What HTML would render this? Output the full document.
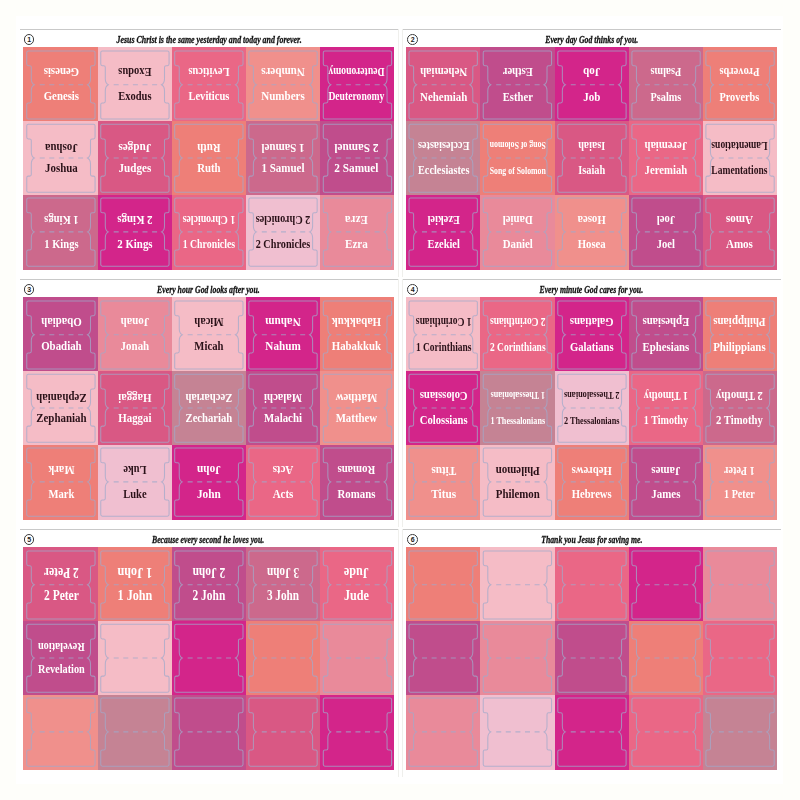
<!DOCTYPE html><html><head><meta charset="utf-8"><title>Bible tabs</title><style>
html,body{margin:0;padding:0}
body{width:800px;height:800px;background:#fefefa;position:relative;overflow:hidden;font-family:"Liberation Serif",serif}
.pg{position:absolute;left:16px;top:16px;width:767px;height:768px;background:#fff}
.ln{position:absolute;height:1px;background:#c9c9c9}
.vl{position:absolute;width:1px;background:#efefec}
.num{position:absolute;width:8.8px;height:8.8px;border:1.1px solid #3c3c3c;border-radius:50%;font:bold 7px/9px "Liberation Sans",sans-serif;text-align:center;color:#222}
.tt{position:absolute;height:12px;width:300px;font:italic bold 10.5px/12px "Liberation Serif",serif;color:#111;white-space:nowrap;text-align:center}
.tt span{display:inline-block;transform-origin:50% 50%;-webkit-text-stroke:0.3px #111;filter:blur(0.25px)}
.c{position:absolute;overflow:hidden}
.c svg{position:absolute;left:0;top:0;overflow:hidden;filter:blur(0.4px)}
.c text{font-family:"Liberation Serif",serif;font-weight:bold;font-size:13.5px;fill:#fff;text-anchor:middle}
.c.k text{fill:#2a1118}
</style></head><body><div class="pg"></div>
<svg width="0" height="0" style="position:absolute"><defs><g id="tab"><path d="M-32.55,-33.85 H32.55 Q34.15,-33.85 34.15,-32.25 V-20.70 Q34.15,-19.1 32.55,-19.1 H31.20 Q29.6,-19.1 29.6,-17.5 V-6 Q29.6,-1.6 26.6,0 Q29.6,1.6 29.6,6 V16.5 Q29.6,18.1 31.20,18.1 H32.55 Q34.15,18.1 34.15,19.70 V32.65 Q34.15,34.25 32.55,34.25 H-32.55 Q-34.15,34.25 -34.15,32.65 V19.70 Q-34.15,18.1 -32.55,18.1 H-31.20 Q-29.6,18.1 -29.6,16.5 V6 Q-29.6,1.6 -26.6,0 Q-29.6,-1.6 -29.6,-6 V-17.5 Q-29.6,-19.1 -31.20,-19.1 H-32.55 Q-34.15,-19.1 -34.15,-20.70 V-32.25 Q-34.15,-33.85 -32.55,-33.85 Z" stroke="#a0aaca" stroke-opacity="0.74" stroke-width="1.05" fill="none"/><path d="M-21.200000000000003,0 H26.6" stroke="#a0aaca" stroke-opacity="0.74" stroke-width="1.05" fill="none" stroke-dasharray="5 4.6"/></g></defs></svg>
<div class="ln" style="left:20px;top:28.8px;width:378px"></div>
<div class="num" style="left:23.7px;top:34.20px">1</div>
<div class="tt" style="left:58.6px;top:33.70px"><span style="transform:scaleX(0.752)">Jesus Christ is the same yesterday and today and forever.</span></div>
<div class="c" style="left:22.6px;top:46.7px;width:75.5px;height:74.7px;background:#ee7f78"><svg width="75.5" height="74.7"><use href="#tab" x="37.90" y="37.80"/><text transform="translate(38.40,21.32) rotate(180) scale(0.799,1)">Genesis</text><text transform="translate(38.40,53.32) scale(0.799,1)">Genesis</text></svg></div>
<div class="c k" style="left:98.1px;top:46.7px;width:73.8px;height:74.7px;background:#f5bcc6"><svg width="73.8" height="74.7"><use href="#tab" x="36.90" y="37.80"/><text transform="translate(36.90,21.32) rotate(180) scale(0.778,1)">Exodus</text><text transform="translate(36.90,53.32) scale(0.778,1)">Exodus</text></svg></div>
<div class="c" style="left:171.9px;top:46.7px;width:73.7px;height:74.7px;background:#ea6786"><svg width="73.7" height="74.7"><use href="#tab" x="36.85" y="37.80"/><text transform="translate(36.90,21.32) rotate(180) scale(0.782,1)">Leviticus</text><text transform="translate(36.90,53.32) scale(0.782,1)">Leviticus</text></svg></div>
<div class="c" style="left:245.6px;top:46.7px;width:74.0px;height:74.7px;background:#f0908c"><svg width="74.0" height="74.7"><use href="#tab" x="37.00" y="37.80"/><text transform="translate(37.00,21.32) rotate(180) scale(0.820,1)">Numbers</text><text transform="translate(37.00,53.32) scale(0.820,1)">Numbers</text></svg></div>
<div class="c" style="left:319.6px;top:46.7px;width:74.9px;height:74.7px;background:#d3258a"><svg width="74.9" height="74.7"><use href="#tab" x="37.45" y="37.80"/><text transform="translate(36.40,21.32) rotate(180) scale(0.715,1)">Deuteronomy</text><text transform="translate(36.40,53.32) scale(0.715,1)">Deuteronomy</text></svg></div>
<div class="c k" style="left:22.6px;top:121.4px;width:75.5px;height:73.9px;background:#f5bcc6"><svg width="75.5" height="73.9"><use href="#tab" x="37.90" y="37.00"/><text transform="translate(38.40,22.62) rotate(180) scale(0.808,1)">Joshua</text><text transform="translate(38.40,50.62) scale(0.808,1)">Joshua</text></svg></div>
<div class="c" style="left:98.1px;top:121.4px;width:73.8px;height:73.9px;background:#d95884"><svg width="73.8" height="73.9"><use href="#tab" x="36.90" y="37.00"/><text transform="translate(36.90,22.62) rotate(180) scale(0.824,1)">Judges</text><text transform="translate(36.90,50.62) scale(0.824,1)">Judges</text></svg></div>
<div class="c" style="left:171.9px;top:121.4px;width:73.7px;height:73.9px;background:#ee7f78"><svg width="73.7" height="73.9"><use href="#tab" x="36.85" y="37.00"/><text transform="translate(36.90,22.62) rotate(180) scale(0.800,1)">Ruth</text><text transform="translate(36.90,50.62) scale(0.800,1)">Ruth</text></svg></div>
<div class="c" style="left:245.6px;top:121.4px;width:74.0px;height:73.9px;background:#cc698c"><svg width="74.0" height="73.9"><use href="#tab" x="37.00" y="37.00"/><text transform="translate(37.00,22.62) rotate(180) scale(0.816,1)">1 Samuel</text><text transform="translate(37.00,50.62) scale(0.816,1)">1 Samuel</text></svg></div>
<div class="c" style="left:319.6px;top:121.4px;width:74.9px;height:73.9px;background:#c04d8c"><svg width="74.9" height="73.9"><use href="#tab" x="37.45" y="37.00"/><text transform="translate(36.40,22.62) rotate(180) scale(0.836,1)">2 Samuel</text><text transform="translate(36.40,50.62) scale(0.836,1)">2 Samuel</text></svg></div>
<div class="c" style="left:22.6px;top:195.3px;width:75.5px;height:74.4px;background:#cc698c"><svg width="75.5" height="74.4"><use href="#tab" x="37.90" y="36.90"/><text transform="translate(38.40,20.72) rotate(180) scale(0.782,1)">1 Kings</text><text transform="translate(38.40,52.72) scale(0.782,1)">1 Kings</text></svg></div>
<div class="c" style="left:98.1px;top:195.3px;width:73.8px;height:74.4px;background:#d3258a"><svg width="73.8" height="74.4"><use href="#tab" x="36.90" y="36.90"/><text transform="translate(36.90,20.72) rotate(180) scale(0.806,1)">2 Kings</text><text transform="translate(36.90,52.72) scale(0.806,1)">2 Kings</text></svg></div>
<div class="c" style="left:171.9px;top:195.3px;width:73.7px;height:74.4px;background:#ea6786"><svg width="73.7" height="74.4"><use href="#tab" x="36.85" y="36.90"/><text transform="translate(36.90,20.72) rotate(180) scale(0.728,1)">1 Chronicles</text><text transform="translate(36.90,52.72) scale(0.728,1)">1 Chronicles</text></svg></div>
<div class="c k" style="left:245.6px;top:195.3px;width:74.0px;height:74.4px;background:#f0bfd0"><svg width="74.0" height="74.4"><use href="#tab" x="37.00" y="36.90"/><text transform="translate(37.00,20.72) rotate(180) scale(0.757,1)">2 Chronicles</text><text transform="translate(37.00,52.72) scale(0.757,1)">2 Chronicles</text></svg></div>
<div class="c" style="left:319.6px;top:195.3px;width:74.9px;height:74.4px;background:#e98a9a"><svg width="74.9" height="74.4"><use href="#tab" x="37.45" y="36.90"/><text transform="translate(36.40,20.72) rotate(180) scale(0.825,1)">Ezra</text><text transform="translate(36.40,52.72) scale(0.825,1)">Ezra</text></svg></div>
<div class="ln" style="left:402px;top:28.8px;width:379px"></div>
<div class="num" style="left:407.2px;top:34.20px">2</div>
<div class="tt" style="left:441.5px;top:33.70px"><span style="transform:scaleX(0.742)">Every day God thinks of you.</span></div>
<div class="c" style="left:406.1px;top:46.7px;width:74.1px;height:74.7px;background:#d95884"><svg width="74.1" height="74.7"><use href="#tab" x="37.20" y="37.80"/><text transform="translate(37.70,21.32) rotate(180) scale(0.809,1)">Nehemiah</text><text transform="translate(37.70,54.32) scale(0.809,1)">Nehemiah</text></svg></div>
<div class="c" style="left:480.2px;top:46.7px;width:74.7px;height:74.7px;background:#c04d8c"><svg width="74.7" height="74.7"><use href="#tab" x="37.40" y="37.80"/><text transform="translate(37.80,21.32) rotate(180) scale(0.788,1)">Esther</text><text transform="translate(37.80,54.32) scale(0.788,1)">Esther</text></svg></div>
<div class="c" style="left:554.9px;top:46.7px;width:73.9px;height:74.7px;background:#d3258a"><svg width="73.9" height="74.7"><use href="#tab" x="36.95" y="37.80"/><text transform="translate(36.70,21.32) rotate(180) scale(0.816,1)">Job</text><text transform="translate(36.70,54.32) scale(0.816,1)">Job</text></svg></div>
<div class="c" style="left:628.8px;top:46.7px;width:74.1px;height:74.7px;background:#cc698c"><svg width="74.1" height="74.7"><use href="#tab" x="37.05" y="37.80"/><text transform="translate(36.90,21.32) rotate(180) scale(0.758,1)">Psalms</text><text transform="translate(36.90,54.32) scale(0.758,1)">Psalms</text></svg></div>
<div class="c" style="left:702.9px;top:46.7px;width:74.1px;height:74.7px;background:#ee7f78"><svg width="74.1" height="74.7"><use href="#tab" x="37.05" y="37.80"/><text transform="translate(36.40,21.32) rotate(180) scale(0.766,1)">Proverbs</text><text transform="translate(36.40,54.32) scale(0.766,1)">Proverbs</text></svg></div>
<div class="c" style="left:406.1px;top:121.4px;width:74.1px;height:73.9px;background:#c58394"><svg width="74.1" height="73.9"><use href="#tab" x="37.20" y="37.00"/><text transform="translate(37.70,20.62) rotate(180) scale(0.763,1)">Ecclesiastes</text><text transform="translate(37.70,52.62) scale(0.763,1)">Ecclesiastes</text></svg></div>
<div class="c" style="left:480.2px;top:121.4px;width:74.7px;height:73.9px;background:#ee7f78"><svg width="74.7" height="73.9"><use href="#tab" x="37.40" y="37.00"/><text style="font-size:10.46px" transform="translate(37.80,20.62) rotate(180) scale(0.749,1)">Song of Solomon</text><text style="font-size:10.46px" transform="translate(37.80,52.62) scale(0.749,1)">Song of Solomon</text></svg></div>
<div class="c" style="left:554.9px;top:121.4px;width:73.9px;height:73.9px;background:#d95884"><svg width="73.9" height="73.9"><use href="#tab" x="36.95" y="37.00"/><text transform="translate(36.70,20.62) rotate(180) scale(0.766,1)">Isaiah</text><text transform="translate(36.70,52.62) scale(0.766,1)">Isaiah</text></svg></div>
<div class="c" style="left:628.8px;top:121.4px;width:74.1px;height:73.9px;background:#ea6786"><svg width="74.1" height="73.9"><use href="#tab" x="37.05" y="37.00"/><text transform="translate(36.90,20.62) rotate(180) scale(0.794,1)">Jeremiah</text><text transform="translate(36.90,52.62) scale(0.794,1)">Jeremiah</text></svg></div>
<div class="c k" style="left:702.9px;top:121.4px;width:74.1px;height:73.9px;background:#f5bcc6"><svg width="74.1" height="73.9"><use href="#tab" x="37.05" y="37.00"/><text transform="translate(36.40,20.62) rotate(180) scale(0.706,1)">Lamentations</text><text transform="translate(36.40,52.62) scale(0.706,1)">Lamentations</text></svg></div>
<div class="c" style="left:406.1px;top:195.3px;width:74.1px;height:74.4px;background:#d3258a"><svg width="74.1" height="74.4"><use href="#tab" x="37.20" y="36.90"/><text transform="translate(37.70,20.72) rotate(180) scale(0.768,1)">Ezekiel</text><text transform="translate(37.70,52.72) scale(0.768,1)">Ezekiel</text></svg></div>
<div class="c" style="left:480.2px;top:195.3px;width:74.7px;height:74.4px;background:#e98a9a"><svg width="74.7" height="74.4"><use href="#tab" x="37.40" y="36.90"/><text transform="translate(37.80,20.72) rotate(180) scale(0.804,1)">Daniel</text><text transform="translate(37.80,52.72) scale(0.804,1)">Daniel</text></svg></div>
<div class="c" style="left:554.9px;top:195.3px;width:73.9px;height:74.4px;background:#f0908c"><svg width="73.9" height="74.4"><use href="#tab" x="36.95" y="36.90"/><text transform="translate(36.70,20.72) rotate(180) scale(0.796,1)">Hosea</text><text transform="translate(36.70,52.72) scale(0.796,1)">Hosea</text></svg></div>
<div class="c" style="left:628.8px;top:195.3px;width:74.1px;height:74.4px;background:#c04d8c"><svg width="74.1" height="74.4"><use href="#tab" x="37.05" y="36.90"/><text transform="translate(36.90,20.72) rotate(180) scale(0.783,1)">Joel</text><text transform="translate(36.90,52.72) scale(0.783,1)">Joel</text></svg></div>
<div class="c" style="left:702.9px;top:195.3px;width:74.1px;height:74.4px;background:#d95884"><svg width="74.1" height="74.4"><use href="#tab" x="37.05" y="36.90"/><text transform="translate(36.40,20.72) rotate(180) scale(0.819,1)">Amos</text><text transform="translate(36.40,52.72) scale(0.819,1)">Amos</text></svg></div>
<div class="ln" style="left:20px;top:278.8px;width:378px"></div>
<div class="num" style="left:23.7px;top:284.20px">3</div>
<div class="tt" style="left:58.6px;top:283.70px"><span style="transform:scaleX(0.739)">Every hour God looks after you.</span></div>
<div class="c" style="left:22.6px;top:296.7px;width:75.5px;height:74.7px;background:#c04d8c"><svg width="75.5" height="74.7"><use href="#tab" x="37.90" y="37.80"/><text transform="translate(38.40,21.32) rotate(180) scale(0.807,1)">Obadiah</text><text transform="translate(38.40,53.32) scale(0.807,1)">Obadiah</text></svg></div>
<div class="c" style="left:98.1px;top:296.7px;width:73.8px;height:74.7px;background:#e98a9a"><svg width="73.8" height="74.7"><use href="#tab" x="36.90" y="37.80"/><text transform="translate(36.90,21.32) rotate(180) scale(0.811,1)">Jonah</text><text transform="translate(36.90,53.32) scale(0.811,1)">Jonah</text></svg></div>
<div class="c k" style="left:171.9px;top:296.7px;width:73.7px;height:74.7px;background:#f5bcc6"><svg width="73.7" height="74.7"><use href="#tab" x="36.85" y="37.80"/><text transform="translate(36.90,21.32) rotate(180) scale(0.792,1)">Micah</text><text transform="translate(36.90,53.32) scale(0.792,1)">Micah</text></svg></div>
<div class="c" style="left:245.6px;top:296.7px;width:74.0px;height:74.7px;background:#d3258a"><svg width="74.0" height="74.7"><use href="#tab" x="37.00" y="37.80"/><text transform="translate(37.00,21.32) rotate(180) scale(0.827,1)">Nahum</text><text transform="translate(37.00,53.32) scale(0.827,1)">Nahum</text></svg></div>
<div class="c" style="left:319.6px;top:296.7px;width:74.9px;height:74.7px;background:#ee7f78"><svg width="74.9" height="74.7"><use href="#tab" x="37.45" y="37.80"/><text transform="translate(36.40,21.32) rotate(180) scale(0.803,1)">Habakkuk</text><text transform="translate(36.40,53.32) scale(0.803,1)">Habakkuk</text></svg></div>
<div class="c k" style="left:22.6px;top:371.4px;width:75.5px;height:73.9px;background:#f5bcc6"><svg width="75.5" height="73.9"><use href="#tab" x="37.90" y="37.00"/><text transform="translate(38.40,22.62) rotate(180) scale(0.810,1)">Zephaniah</text><text transform="translate(38.40,50.62) scale(0.810,1)">Zephaniah</text></svg></div>
<div class="c" style="left:98.1px;top:371.4px;width:73.8px;height:73.9px;background:#d95884"><svg width="73.8" height="73.9"><use href="#tab" x="36.90" y="37.00"/><text transform="translate(36.90,22.62) rotate(180) scale(0.807,1)">Haggai</text><text transform="translate(36.90,50.62) scale(0.807,1)">Haggai</text></svg></div>
<div class="c" style="left:171.9px;top:371.4px;width:73.7px;height:73.9px;background:#c58394"><svg width="73.7" height="73.9"><use href="#tab" x="36.85" y="37.00"/><text transform="translate(36.90,22.62) rotate(180) scale(0.790,1)">Zechariah</text><text transform="translate(36.90,50.62) scale(0.790,1)">Zechariah</text></svg></div>
<div class="c" style="left:245.6px;top:371.4px;width:74.0px;height:73.9px;background:#c04d8c"><svg width="74.0" height="73.9"><use href="#tab" x="37.00" y="37.00"/><text transform="translate(37.00,22.62) rotate(180) scale(0.803,1)">Malachi</text><text transform="translate(37.00,50.62) scale(0.803,1)">Malachi</text></svg></div>
<div class="c" style="left:319.6px;top:371.4px;width:74.9px;height:73.9px;background:#f0908c"><svg width="74.9" height="73.9"><use href="#tab" x="37.45" y="37.00"/><text transform="translate(36.40,22.62) rotate(180) scale(0.804,1)">Matthew</text><text transform="translate(36.40,50.62) scale(0.804,1)">Matthew</text></svg></div>
<div class="c" style="left:22.6px;top:445.3px;width:75.5px;height:74.4px;background:#ee7f78"><svg width="75.5" height="74.4"><use href="#tab" x="37.90" y="36.90"/><text transform="translate(38.40,20.72) rotate(180) scale(0.788,1)">Mark</text><text transform="translate(38.40,52.72) scale(0.788,1)">Mark</text></svg></div>
<div class="c k" style="left:98.1px;top:445.3px;width:73.8px;height:74.4px;background:#f0bfd0"><svg width="73.8" height="74.4"><use href="#tab" x="36.90" y="36.90"/><text transform="translate(36.90,20.72) rotate(180) scale(0.779,1)">Luke</text><text transform="translate(36.90,52.72) scale(0.779,1)">Luke</text></svg></div>
<div class="c" style="left:171.9px;top:445.3px;width:73.7px;height:74.4px;background:#d3258a"><svg width="73.7" height="74.4"><use href="#tab" x="36.85" y="36.90"/><text transform="translate(36.90,20.72) rotate(180) scale(0.838,1)">John</text><text transform="translate(36.90,52.72) scale(0.838,1)">John</text></svg></div>
<div class="c" style="left:245.6px;top:445.3px;width:74.0px;height:74.4px;background:#ea6786"><svg width="74.0" height="74.4"><use href="#tab" x="37.00" y="36.90"/><text transform="translate(37.00,20.72) rotate(180) scale(0.815,1)">Acts</text><text transform="translate(37.00,52.72) scale(0.815,1)">Acts</text></svg></div>
<div class="c" style="left:319.6px;top:445.3px;width:74.9px;height:74.4px;background:#c04d8c"><svg width="74.9" height="74.4"><use href="#tab" x="37.45" y="36.90"/><text transform="translate(36.40,20.72) rotate(180) scale(0.803,1)">Romans</text><text transform="translate(36.40,52.72) scale(0.803,1)">Romans</text></svg></div>
<div class="ln" style="left:402px;top:278.8px;width:379px"></div>
<div class="num" style="left:407.2px;top:284.20px">4</div>
<div class="tt" style="left:441.5px;top:283.70px"><span style="transform:scaleX(0.737)">Every minute God cares for you.</span></div>
<div class="c k" style="left:406.1px;top:296.7px;width:74.1px;height:74.7px;background:#f5bcc6"><svg width="74.1" height="74.7"><use href="#tab" x="37.20" y="37.80"/><text transform="translate(37.70,21.32) rotate(180) scale(0.703,1)">1 Corinthians</text><text transform="translate(37.70,54.32) scale(0.703,1)">1 Corinthians</text></svg></div>
<div class="c" style="left:480.2px;top:296.7px;width:74.7px;height:74.7px;background:#ea6786"><svg width="74.7" height="74.7"><use href="#tab" x="37.40" y="37.80"/><text transform="translate(37.80,21.32) rotate(180) scale(0.703,1)">2 Corinthians</text><text transform="translate(37.80,54.32) scale(0.703,1)">2 Corinthians</text></svg></div>
<div class="c" style="left:554.9px;top:296.7px;width:73.9px;height:74.7px;background:#d3258a"><svg width="73.9" height="74.7"><use href="#tab" x="36.95" y="37.80"/><text transform="translate(36.70,21.32) rotate(180) scale(0.787,1)">Galatians</text><text transform="translate(36.70,54.32) scale(0.787,1)">Galatians</text></svg></div>
<div class="c" style="left:628.8px;top:296.7px;width:74.1px;height:74.7px;background:#c04d8c"><svg width="74.1" height="74.7"><use href="#tab" x="37.05" y="37.80"/><text transform="translate(36.90,21.32) rotate(180) scale(0.800,1)">Ephesians</text><text transform="translate(36.90,54.32) scale(0.800,1)">Ephesians</text></svg></div>
<div class="c" style="left:702.9px;top:296.7px;width:74.1px;height:74.7px;background:#ee7f78"><svg width="74.1" height="74.7"><use href="#tab" x="37.05" y="37.80"/><text transform="translate(36.40,21.32) rotate(180) scale(0.804,1)">Philippians</text><text transform="translate(36.40,54.32) scale(0.804,1)">Philippians</text></svg></div>
<div class="c" style="left:406.1px;top:371.4px;width:74.1px;height:73.9px;background:#d3258a"><svg width="74.1" height="73.9"><use href="#tab" x="37.20" y="37.00"/><text transform="translate(37.70,20.62) rotate(180) scale(0.787,1)">Colossians</text><text transform="translate(37.70,52.62) scale(0.787,1)">Colossians</text></svg></div>
<div class="c" style="left:480.2px;top:371.4px;width:74.7px;height:73.9px;background:#c58394"><svg width="74.7" height="73.9"><use href="#tab" x="37.40" y="37.00"/><text style="font-size:10.83px" transform="translate(37.80,20.62) rotate(180) scale(0.749,1)">1 Thessalonians</text><text style="font-size:10.83px" transform="translate(37.80,52.62) scale(0.749,1)">1 Thessalonians</text></svg></div>
<div class="c k" style="left:554.9px;top:371.4px;width:73.9px;height:73.9px;background:#f0bfd0"><svg width="73.9" height="73.9"><use href="#tab" x="36.95" y="37.00"/><text style="font-size:11.03px" transform="translate(36.70,20.62) rotate(180) scale(0.749,1)">2 Thessalonians</text><text style="font-size:11.03px" transform="translate(36.70,52.62) scale(0.749,1)">2 Thessalonians</text></svg></div>
<div class="c" style="left:628.8px;top:371.4px;width:74.1px;height:73.9px;background:#ea6786"><svg width="74.1" height="73.9"><use href="#tab" x="37.05" y="37.00"/><text transform="translate(36.90,20.62) rotate(180) scale(0.747,1)">1 Timothy</text><text transform="translate(36.90,52.62) scale(0.747,1)">1 Timothy</text></svg></div>
<div class="c" style="left:702.9px;top:371.4px;width:74.1px;height:73.9px;background:#cc698c"><svg width="74.1" height="73.9"><use href="#tab" x="37.05" y="37.00"/><text transform="translate(36.40,20.62) rotate(180) scale(0.791,1)">2 Timothy</text><text transform="translate(36.40,52.62) scale(0.791,1)">2 Timothy</text></svg></div>
<div class="c" style="left:406.1px;top:445.3px;width:74.1px;height:74.4px;background:#f0908c"><svg width="74.1" height="74.4"><use href="#tab" x="37.20" y="36.90"/><text transform="translate(37.70,21.72) rotate(180) scale(0.838,1)">Titus</text><text transform="translate(37.70,52.72) scale(0.838,1)">Titus</text></svg></div>
<div class="c k" style="left:480.2px;top:445.3px;width:74.7px;height:74.4px;background:#f5bcc6"><svg width="74.7" height="74.4"><use href="#tab" x="37.40" y="36.90"/><text transform="translate(37.80,21.72) rotate(180) scale(0.807,1)">Philemon</text><text transform="translate(37.80,52.72) scale(0.807,1)">Philemon</text></svg></div>
<div class="c" style="left:554.9px;top:445.3px;width:73.9px;height:74.4px;background:#ee7f78"><svg width="73.9" height="74.4"><use href="#tab" x="36.95" y="36.90"/><text transform="translate(36.70,21.72) rotate(180) scale(0.789,1)">Hebrews</text><text transform="translate(36.70,52.72) scale(0.789,1)">Hebrews</text></svg></div>
<div class="c" style="left:628.8px;top:445.3px;width:74.1px;height:74.4px;background:#c04d8c"><svg width="74.1" height="74.4"><use href="#tab" x="37.05" y="36.90"/><text transform="translate(36.90,21.72) rotate(180) scale(0.809,1)">James</text><text transform="translate(36.90,52.72) scale(0.809,1)">James</text></svg></div>
<div class="c" style="left:702.9px;top:445.3px;width:74.1px;height:74.4px;background:#f0908c"><svg width="74.1" height="74.4"><use href="#tab" x="37.05" y="36.90"/><text transform="translate(36.40,21.72) rotate(180) scale(0.751,1)">1 Peter</text><text transform="translate(36.40,52.72) scale(0.751,1)">1 Peter</text></svg></div>
<div class="ln" style="left:20px;top:528.8px;width:378px"></div>
<div class="num" style="left:23.7px;top:534.20px">5</div>
<div class="tt" style="left:58.6px;top:533.70px"><span style="transform:scaleX(0.737)">Because every second he loves you.</span></div>
<div class="c" style="left:22.6px;top:546.7px;width:75.5px;height:74.7px;background:#d95884"><svg width="75.5" height="74.7"><use href="#tab" x="37.90" y="37.80"/><text style="font-size:14.01px" transform="translate(38.40,21.32) rotate(180) scale(0.822,1)">2 Peter</text><text style="font-size:14.01px" transform="translate(38.40,53.32) scale(0.822,1)">2 Peter</text></svg></div>
<div class="c" style="left:98.1px;top:546.7px;width:73.8px;height:74.7px;background:#ee7f78"><svg width="73.8" height="74.7"><use href="#tab" x="36.90" y="37.80"/><text style="font-size:14.60px" transform="translate(36.90,21.32) rotate(180) scale(0.833,1)">1 John</text><text style="font-size:14.60px" transform="translate(36.90,53.32) scale(0.833,1)">1 John</text></svg></div>
<div class="c" style="left:171.9px;top:546.7px;width:73.7px;height:74.7px;background:#c04d8c"><svg width="73.7" height="74.7"><use href="#tab" x="36.85" y="37.80"/><text style="font-size:14.60px" transform="translate(36.90,21.32) rotate(180) scale(0.784,1)">2 John</text><text style="font-size:14.60px" transform="translate(36.90,53.32) scale(0.784,1)">2 John</text></svg></div>
<div class="c" style="left:245.6px;top:546.7px;width:74.0px;height:74.7px;background:#cc698c"><svg width="74.0" height="74.7"><use href="#tab" x="37.00" y="37.80"/><text style="font-size:14.60px" transform="translate(37.00,21.32) rotate(180) scale(0.771,1)">3 John</text><text style="font-size:14.60px" transform="translate(37.00,53.32) scale(0.771,1)">3 John</text></svg></div>
<div class="c" style="left:319.6px;top:546.7px;width:74.9px;height:74.7px;background:#ea6786"><svg width="74.9" height="74.7"><use href="#tab" x="37.45" y="37.80"/><text style="font-size:14.60px" transform="translate(36.40,21.32) rotate(180) scale(0.831,1)">Jude</text><text style="font-size:14.60px" transform="translate(36.40,53.32) scale(0.831,1)">Jude</text></svg></div>
<div class="c" style="left:22.6px;top:621.4px;width:75.5px;height:73.9px;background:#c04d8c"><svg width="75.5" height="73.9"><use href="#tab" x="37.90" y="37.00"/><text transform="translate(38.40,21.62) rotate(180) scale(0.761,1)">Revelation</text><text transform="translate(38.40,51.62) scale(0.761,1)">Revelation</text></svg></div>
<div class="c k" style="left:98.1px;top:621.4px;width:73.8px;height:73.9px;background:#f5bcc6"><svg width="73.8" height="73.9"><use href="#tab" x="36.90" y="37.00"/></svg></div>
<div class="c" style="left:171.9px;top:621.4px;width:73.7px;height:73.9px;background:#d3258a"><svg width="73.7" height="73.9"><use href="#tab" x="36.85" y="37.00"/></svg></div>
<div class="c" style="left:245.6px;top:621.4px;width:74.0px;height:73.9px;background:#ee7f78"><svg width="74.0" height="73.9"><use href="#tab" x="37.00" y="37.00"/></svg></div>
<div class="c" style="left:319.6px;top:621.4px;width:74.9px;height:73.9px;background:#e98a9a"><svg width="74.9" height="73.9"><use href="#tab" x="37.45" y="37.00"/></svg></div>
<div class="c" style="left:22.6px;top:695.3px;width:75.5px;height:74.4px;background:#f0908c"><svg width="75.5" height="74.4"><use href="#tab" x="37.90" y="36.90"/></svg></div>
<div class="c" style="left:98.1px;top:695.3px;width:73.8px;height:74.4px;background:#c58394"><svg width="73.8" height="74.4"><use href="#tab" x="36.90" y="36.90"/></svg></div>
<div class="c" style="left:171.9px;top:695.3px;width:73.7px;height:74.4px;background:#c04d8c"><svg width="73.7" height="74.4"><use href="#tab" x="36.85" y="36.90"/></svg></div>
<div class="c" style="left:245.6px;top:695.3px;width:74.0px;height:74.4px;background:#d95884"><svg width="74.0" height="74.4"><use href="#tab" x="37.00" y="36.90"/></svg></div>
<div class="c" style="left:319.6px;top:695.3px;width:74.9px;height:74.4px;background:#d3258a"><svg width="74.9" height="74.4"><use href="#tab" x="37.45" y="36.90"/></svg></div>
<div class="ln" style="left:402px;top:528.8px;width:379px"></div>
<div class="num" style="left:407.2px;top:534.20px">6</div>
<div class="tt" style="left:441.5px;top:533.70px"><span style="transform:scaleX(0.735)">Thank you Jesus for saving me.</span></div>
<div class="c" style="left:406.1px;top:546.7px;width:74.1px;height:74.7px;background:#ee7f78"><svg width="74.1" height="74.7"><use href="#tab" x="37.20" y="37.80"/></svg></div>
<div class="c k" style="left:480.2px;top:546.7px;width:74.7px;height:74.7px;background:#f5bcc6"><svg width="74.7" height="74.7"><use href="#tab" x="37.40" y="37.80"/></svg></div>
<div class="c" style="left:554.9px;top:546.7px;width:73.9px;height:74.7px;background:#ea6786"><svg width="73.9" height="74.7"><use href="#tab" x="36.95" y="37.80"/></svg></div>
<div class="c" style="left:628.8px;top:546.7px;width:74.1px;height:74.7px;background:#d3258a"><svg width="74.1" height="74.7"><use href="#tab" x="37.05" y="37.80"/></svg></div>
<div class="c" style="left:702.9px;top:546.7px;width:74.1px;height:74.7px;background:#e98a9a"><svg width="74.1" height="74.7"><use href="#tab" x="37.05" y="37.80"/></svg></div>
<div class="c" style="left:406.1px;top:621.4px;width:74.1px;height:73.9px;background:#c04d8c"><svg width="74.1" height="73.9"><use href="#tab" x="37.20" y="37.00"/></svg></div>
<div class="c" style="left:480.2px;top:621.4px;width:74.7px;height:73.9px;background:#e98a9a"><svg width="74.7" height="73.9"><use href="#tab" x="37.40" y="37.00"/></svg></div>
<div class="c" style="left:554.9px;top:621.4px;width:73.9px;height:73.9px;background:#c04d8c"><svg width="73.9" height="73.9"><use href="#tab" x="36.95" y="37.00"/></svg></div>
<div class="c" style="left:628.8px;top:621.4px;width:74.1px;height:73.9px;background:#ee7f78"><svg width="74.1" height="73.9"><use href="#tab" x="37.05" y="37.00"/></svg></div>
<div class="c" style="left:702.9px;top:621.4px;width:74.1px;height:73.9px;background:#ea6786"><svg width="74.1" height="73.9"><use href="#tab" x="37.05" y="37.00"/></svg></div>
<div class="c" style="left:406.1px;top:695.3px;width:74.1px;height:74.4px;background:#e98a9a"><svg width="74.1" height="74.4"><use href="#tab" x="37.20" y="36.90"/></svg></div>
<div class="c k" style="left:480.2px;top:695.3px;width:74.7px;height:74.4px;background:#f0bfd0"><svg width="74.7" height="74.4"><use href="#tab" x="37.40" y="36.90"/></svg></div>
<div class="c" style="left:554.9px;top:695.3px;width:73.9px;height:74.4px;background:#d3258a"><svg width="73.9" height="74.4"><use href="#tab" x="36.95" y="36.90"/></svg></div>
<div class="c" style="left:628.8px;top:695.3px;width:74.1px;height:74.4px;background:#ea6786"><svg width="74.1" height="74.4"><use href="#tab" x="37.05" y="36.90"/></svg></div>
<div class="c" style="left:702.9px;top:695.3px;width:74.1px;height:74.4px;background:#c58394"><svg width="74.1" height="74.4"><use href="#tab" x="37.05" y="36.90"/></svg></div>
<div class="vl" style="left:397.5px;top:29px;height:248px"></div>
<div class="vl" style="left:401.5px;top:29px;height:248px"></div>
<div class="vl" style="left:397.5px;top:279px;height:248px"></div>
<div class="vl" style="left:401.5px;top:279px;height:248px"></div>
<div class="vl" style="left:397.5px;top:529px;height:248px"></div>
<div class="vl" style="left:401.5px;top:529px;height:248px"></div>
</body></html>
